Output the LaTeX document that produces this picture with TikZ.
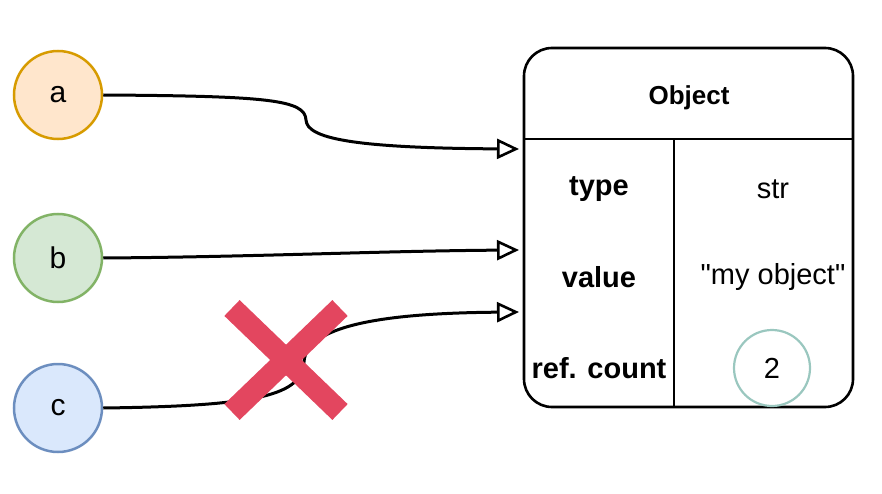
\documentclass[tikz,border=0pt]{standalone}
\usepackage{fontspec}
\setmainfont{Liberation Sans}
\newfontfamily\plainquotes{Liberation Sans}[Ligatures=TeXOff]
\usetikzlibrary{arrows.meta}
\definecolor{aFill}{HTML}{FFE6CC}\definecolor{aLine}{HTML}{D79B00}
\definecolor{bFill}{HTML}{D5E8D4}\definecolor{bLine}{HTML}{82B366}
\definecolor{cFill}{HTML}{DAE8FC}\definecolor{cLine}{HTML}{6C8EBF}
\definecolor{crossRed}{HTML}{E3465F}
\definecolor{countLine}{HTML}{9AC7BF}
\tikzset{
  varnode/.style={circle, line width=2.5pt, minimum size=88pt, inner sep=0pt, font=\fontsize{30}{36}\selectfont},
  lbl/.style={font=\fontsize{29}{34}\selectfont\bfseries},
  val/.style={font=\fontsize{29}{34}\selectfont},
  ref/.style={line width=3pt, -{Triangle[open, length=22pt, width=20pt, line width=2.6pt]}},
  crossline/.style={crossRed, line width=22pt}
}
\begin{document}
\begin{tikzpicture}[x=1pt,y=-1pt]
\useasboundingbox (0,0) rectangle (882,494);
% variables
\node[varnode, draw=aLine, fill=aFill] (a) at (58,95) {a};
\node[varnode, draw=bLine, fill=bFill] (b) at (58,258) {b};
\node[varnode, draw=cLine, fill=cFill] (c) at (58,408) {c};
% object box
\node[draw, line width=2.6pt, rounded corners=28pt, minimum width=329pt, minimum height=359pt, inner sep=0pt] (obj) at (688.5,227.5) {};
\coordinate (hl) at (524,139);
\coordinate (hr) at (853,139);
\coordinate (vt) at (674,139);
\coordinate (vb) at (674,407);
\draw[line width=2.6pt] (hl) -- (hr);
\draw[line width=2.6pt] (vt) -- (vb);
\node[font=\fontsize{26}{30}\selectfont\bfseries] (title) at (689,98) {Object};
\node[lbl] (ktype) at (599,189) {type};
\node[lbl] (kvalue) at (599,277) {value};
\node[lbl] (kref) at (599,368) {ref. count};
\node[val] (vtype) at (773,189) {str};
\node[val] (vvalue) at (773,277) {\plainquotes "my object"};
\node[val, circle, draw=countLine, line width=2.2pt, minimum size=76pt, inner sep=0pt] (vref) at (772,368) {2};
% arrow targets
\coordinate (ta) at (519,149);
\coordinate (tb) at (519,250);
\coordinate (tc) at (519,312);
% references
\draw[ref] (a.east) .. controls (270,96) and (305,100) .. (306,120)
  .. controls (307,138) and (350,148) .. (ta);
\draw[ref] (b.east) .. controls (250,257) and (380,251) .. (tb);
\draw[ref] (c.east) .. controls (260,406) and (302,395) .. (304,362)
  .. controls (306,322) and (400,313) .. (tc);
% cross
\coordinate (x1) at (232,308);
\coordinate (x2) at (340,412);
\coordinate (x3) at (340,308);
\coordinate (x4) at (232,412);
\draw[crossline] (x1) -- (x2);
\draw[crossline] (x3) -- (x4);
\end{tikzpicture}
\end{document}
